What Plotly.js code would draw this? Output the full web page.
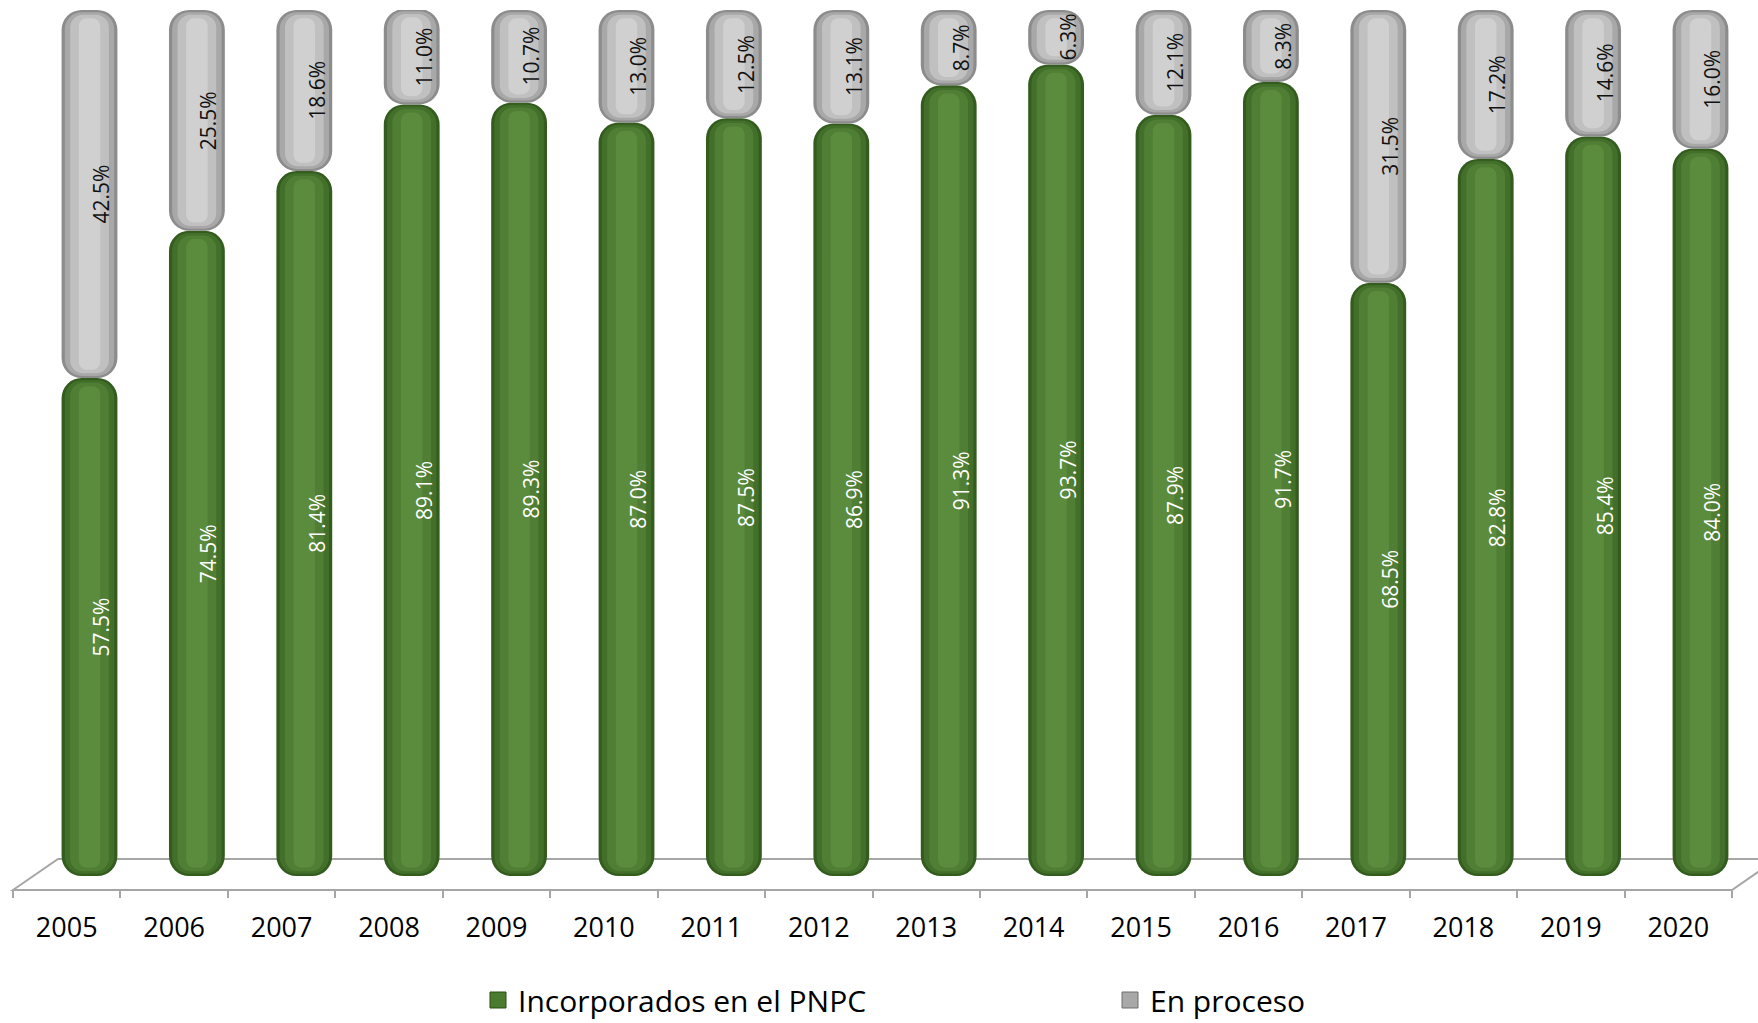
<!DOCTYPE html>
<html>
<head>
<meta charset="utf-8">
<script src="https://cdn.plot.ly/plotly-3.0.1.min.js"></script>
<style>html,body{margin:0;padding:0;background:#fff;}#chart{width:1758px;height:1023px;}</style>
</head>
<body>
<div id="chart"></div>
<script>
// ---- data ----
const years = ["2005","2006","2007","2008","2009","2010","2011","2012","2013","2014","2015","2016","2017","2018","2019","2020"];
const incorporados = [57.5,74.5,81.4,89.1,89.3,87.0,87.5,86.9,91.3,93.7,87.9,91.7,68.5,82.8,85.4,84.0];
const enProceso = [42.5,25.5,18.6,11.0,10.7,13.0,12.5,13.1,8.7,6.3,12.1,8.3,31.5,17.2,14.6,16.0];
const seriesNames = ["Incorporados en el PNPC","En proceso"];

// ---- style ----
const FONT = "Open Sans, Noto Sans, sans-serif";
const greenLayers = ["#335c1e","#42702a","#507e34","#5b8b3c"];
const grayLayers  = ["#8c8c8c","#a8a8a8","#c0c0c0","#d0d0d0"];
const layerWidths = [0.52,0.46,0.36,0.2];
const layerInset  = [0,0.25,0.55,0.95];   // inner highlight layers end slightly before the tips
const layerRadius = [20,17,13,8];

const idx = years.map((_,i)=>i);
const traces = [];
// dummy trace so the front (label) axis exists
traces.push({type:"scatter",mode:"markers",x:years,y:years.map(()=>null),xaxis:"x",yaxis:"y",
  showlegend:false,hoverinfo:"skip"});

// a bar with an explicit base is rounded at both ends -> capsule segments
function addSegment(bases, lens, colors, name) {
  layerWidths.forEach((w,li)=>{
    traces.push({type:"bar",x:idx,
      base:bases.map((b)=>b + layerInset[li]),
      y:lens.map(l=>Math.max(l - 2*layerInset[li],0.2)),
      width:w,xaxis:"x2",yaxis:"y",
      marker:{color:colors[li],cornerradius:layerRadius[li],line:{width:0}},
      showlegend:false,hoverinfo:"skip",name:name});
  });
}
addSegment(years.map(()=>0), incorporados, greenLayers, seriesNames[0]);
addSegment(incorporados, enProceso, grayLayers, seriesNames[1]);

// legend entries
traces.push({type:"scatter",mode:"markers",x:[null],y:[null],xaxis:"x",yaxis:"y",name:seriesNames[0],
  marker:{symbol:"square",size:16,color:"#4a7b2f",line:{color:"#2a4d17",width:1}},legend:"legend",hoverinfo:"skip"});
traces.push({type:"scatter",mode:"markers",x:[null],y:[null],xaxis:"x",yaxis:"y",name:seriesNames[1],
  marker:{symbol:"square",size:16,color:"#a8a8a8",line:{color:"#6f6f6f",width:1}},legend:"legend2",hoverinfo:"skip"});

// data labels
const annotations = [];
idx.forEach(i=>{
  annotations.push({x:i,y:incorporados[i]/2,xref:"x2",yref:"y",text:incorporados[i].toFixed(1)+"%",
    showarrow:false,textangle:-90,xshift:12,font:{family:FONT,size:21,color:"#ffffff"}});
  annotations.push({x:i,y:incorporados[i]+enProceso[i]/2,xref:"x2",yref:"y",text:enProceso[i].toFixed(1)+"%",
    showarrow:false,textangle:-90,xshift:12,font:{family:FONT,size:21,color:"#111111"}});
});

// floor (pixel positions expressed in paper fractions)
const W = 1758, H = 1023;
const px = v=>v/W, py = v=>(H-v)/H;
const floorPath = `M ${px(13)},${py(890)} L ${px(58)},${py(859)} L ${px(1777)},${py(859)} L ${px(1732)},${py(890)} Z`;

const hiddenAx = {showgrid:false,zeroline:false,showline:false,ticks:"",showticklabels:false,fixedrange:true};
const layout = {
  width:W,height:H,margin:{l:0,r:0,t:0,b:0,autoexpand:false},
  paper_bgcolor:"#ffffff",plot_bgcolor:"rgba(0,0,0,0)",
  font:{family:FONT,color:"#000000"},
  barmode:"overlay",
  xaxis:{type:"category",categoryorder:"array",categoryarray:years,domain:[px(13),px(1732)],range:[-0.5,15.5],
    anchor:"free",position:py(890),showgrid:false,zeroline:false,showline:true,linecolor:"#a6a6a6",linewidth:2,
    tickson:"boundaries",ticks:"outside",ticklen:7,tickwidth:2,tickcolor:"#a6a6a6",ticklabelstandoff:14,
    tickfont:{family:FONT,size:27,color:"#000000"},fixedrange:true},
  xaxis2:Object.assign({domain:[px(35.8),px(1754.2)],range:[-0.5,15.5],anchor:"y"},hiddenAx),
  yaxis:Object.assign({domain:[py(876),py(10)],range:[0,100],anchor:"x2"},hiddenAx),
  shapes:[{type:"path",path:floorPath,xref:"paper",yref:"paper",layer:"below",
    fillcolor:"#ffffff",line:{color:"#a6a6a6",width:2}}],
  annotations:annotations,
  legend:{x:px(478),xanchor:"left",y:py(1000),yanchor:"middle",orientation:"h",
    font:{family:FONT,size:30,color:"#000000"},bgcolor:"rgba(0,0,0,0)"},
  legend2:{x:px(1110),xanchor:"left",y:py(1000),yanchor:"middle",orientation:"h",
    font:{family:FONT,size:30,color:"#000000"},bgcolor:"rgba(0,0,0,0)"},
  showlegend:true
};

Plotly.newPlot("chart",traces,layout,{displayModeBar:false,staticPlot:true});
</script>
</body>
</html>
